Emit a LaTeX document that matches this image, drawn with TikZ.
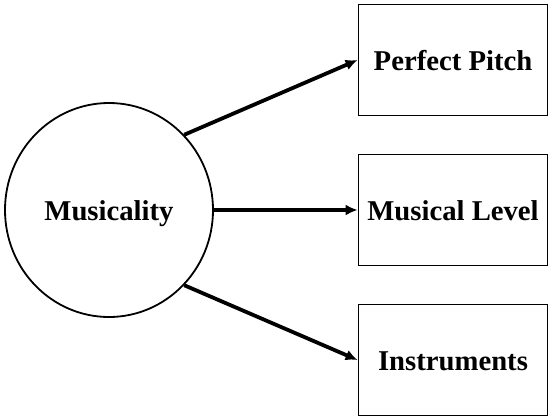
\documentclass[tikz,border=0pt]{standalone}
\usepackage{fontspec}
\setmainfont{Liberation Serif}
\usetikzlibrary{arrows.meta,shapes.geometric}
\begin{document}
\begin{tikzpicture}[x=1pt,y=-1pt,
  lbl/.style={font=\fontsize{28.7}{32}\selectfont\bfseries,text height=21pt,text depth=0pt},
  box/.style={draw=black,line width=1.8pt,minimum width=189pt,minimum height=111pt,inner sep=0pt,lbl},
  conn/.style={line width=3.8pt,-{Latex[length=12pt,width=11pt]}}]
\useasboundingbox (0,0) rectangle (549,418);
\node[draw=black,line width=1.8pt,ellipse,minimum width=208pt,minimum height=214pt,inner sep=0pt,lbl] (m) at (109,210) {Musicality};
\node[box] (p) at (453,60) {Perfect Pitch};
\node[box] (l) at (453,210) {Musical Level};
\node[box] (i) at (453,360) {Instruments};
\draw[conn] (m.45) -- (p.west);
\draw[conn] (m.east) -- (l.west);
\draw[conn] (m.-45) -- (i.west);
\end{tikzpicture}
\end{document}
